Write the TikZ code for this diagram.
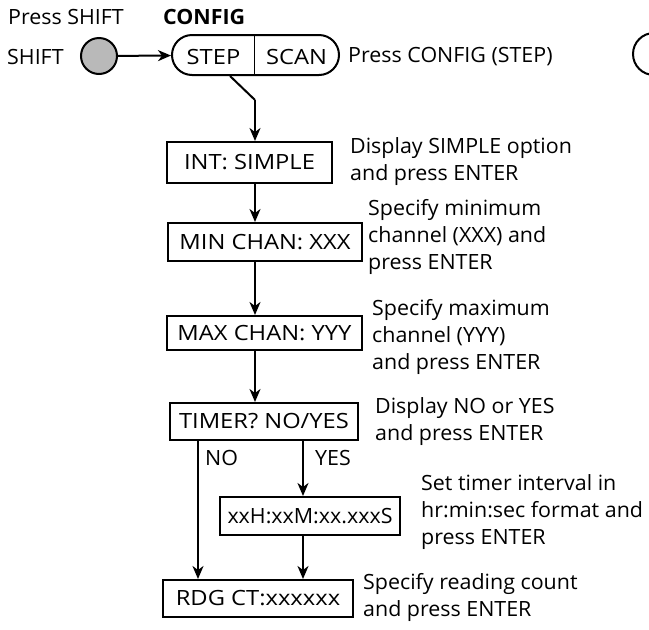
\documentclass[tikz,border=0pt]{standalone}
\usepackage{fontspec}
\setmainfont[FakeStretch=1.02]{Open Sans}
\newfontfamily\capsfont[FakeStretch=1.13]{Open Sans}
\usetikzlibrary{arrows.meta}
\tikzset{
  dispbox/.style={draw, line width=2pt, inner sep=0pt, font=\capsfont\fontsize{21}{27}\selectfont},
  note/.style={anchor=west, align=left, inner sep=0pt, font=\fontsize{21}{27}\selectfont},
  arr/.style={line width=2pt, -{Stealth[length=13pt,width=11pt,inset=4pt]}}
}
\begin{document}
\begin{tikzpicture}[x=1pt,y=-1pt]
\useasboundingbox (0,0) rectangle (649,630);
\node[note] (pshift) at (8,17){Press SHIFT};
\node[note, font=\fontsize{21}{27}\selectfont\bfseries] (cfghead) at (163,17){CONFIG};
\node[note] (shiftlbl) at (7,57){SHIFT};
\node[circle, draw, line width=2pt, fill=gray!55, minimum size=36pt, inner sep=0pt] (shift) at (99,56){};
\node[draw, line width=2pt, rounded corners=20pt, minimum width=167pt, minimum height=40pt] (config) at (255.5,55){};
\draw[line width=1pt] (config.north -| 254,0) -- (config.south -| 254,0);
\node[note, anchor=center, font=\capsfont\fontsize{21}{27}\selectfont] (step) at (213.5,57){STEP};
\node[note, anchor=center, font=\capsfont\fontsize{21}{27}\selectfont] (scan) at (296.5,57){SCAN};
\node[note] (pconfig) at (348,57){Press CONFIG (STEP)};
\draw[line width=2pt] (654,33) arc[start angle=90, end angle=270, radius=21pt];
\draw[arr] (shift) -- (config);
\node[dispbox, minimum width=165pt, minimum height=41pt] (int) at (249.5,162.5){INT: SIMPLE};
\node[dispbox, minimum width=194pt, minimum height=38pt] (minchan) at (265,242){MIN CHAN: XXX};
\node[dispbox, minimum width=195pt, minimum height=34pt] (maxchan) at (264.5,333){MAX CHAN: YYY};
\node[dispbox, minimum width=188pt, minimum height=37pt] (timer) at (264,421.5){TIMER? NO/YES};
\node[dispbox, minimum width=180pt, minimum height=38pt, font=\fontsize{21}{27}\selectfont] (clock) at (310,516){xxH:xxM:xx.xxxS};
\node[dispbox, minimum width=190pt, minimum height=37pt] (rdg) at (258,598.5){RDG CT:xxxxxx};
\coordinate (spine) at (255,0);
\coordinate (diag) at (230,0);
\coordinate (bend) at (255,100);
\coordinate (nox) at (198,0);
\coordinate (yesx) at (303,0);
\draw[line width=2pt] (config.south -| diag) -- (bend);
\draw[arr] (bend) -- (int.north -| spine);
\draw[arr] (int.south -| spine) -- (minchan.north -| spine);
\draw[arr] (minchan.south -| spine) -- (maxchan.north -| spine);
\draw[arr] (maxchan.south -| spine) -- (timer.north -| spine);
\draw[arr] (timer.south -| nox) -- (rdg.north -| nox);
\draw[arr] (timer.south -| yesx) -- (clock.north -| yesx);
\draw[arr] (clock.south -| yesx) -- (rdg.north -| yesx);
\node[note] (nolbl) at (205,458){NO};
\node[note] (yeslbl) at (315,458){YES};
\node[note] (n1) at (350,161.5){Display SIMPLE option\\and press ENTER};
\node[note] (n2) at (368,236.5){Specify minimum\\channel (XXX) and\\press ENTER};
\node[note] (n3) at (372,336.5){Specify maximum\\channel (YYY)\\and press ENTER};
\node[note] (n4) at (375,422){Display NO or YES\\and press ENTER};
\node[note] (n5) at (421,512.5){Set timer interval in\\hr:min:sec format and\\press ENTER};
\node[note] (n6) at (363,597.5){Specify reading count\\and press ENTER};
\end{tikzpicture}
\end{document}
